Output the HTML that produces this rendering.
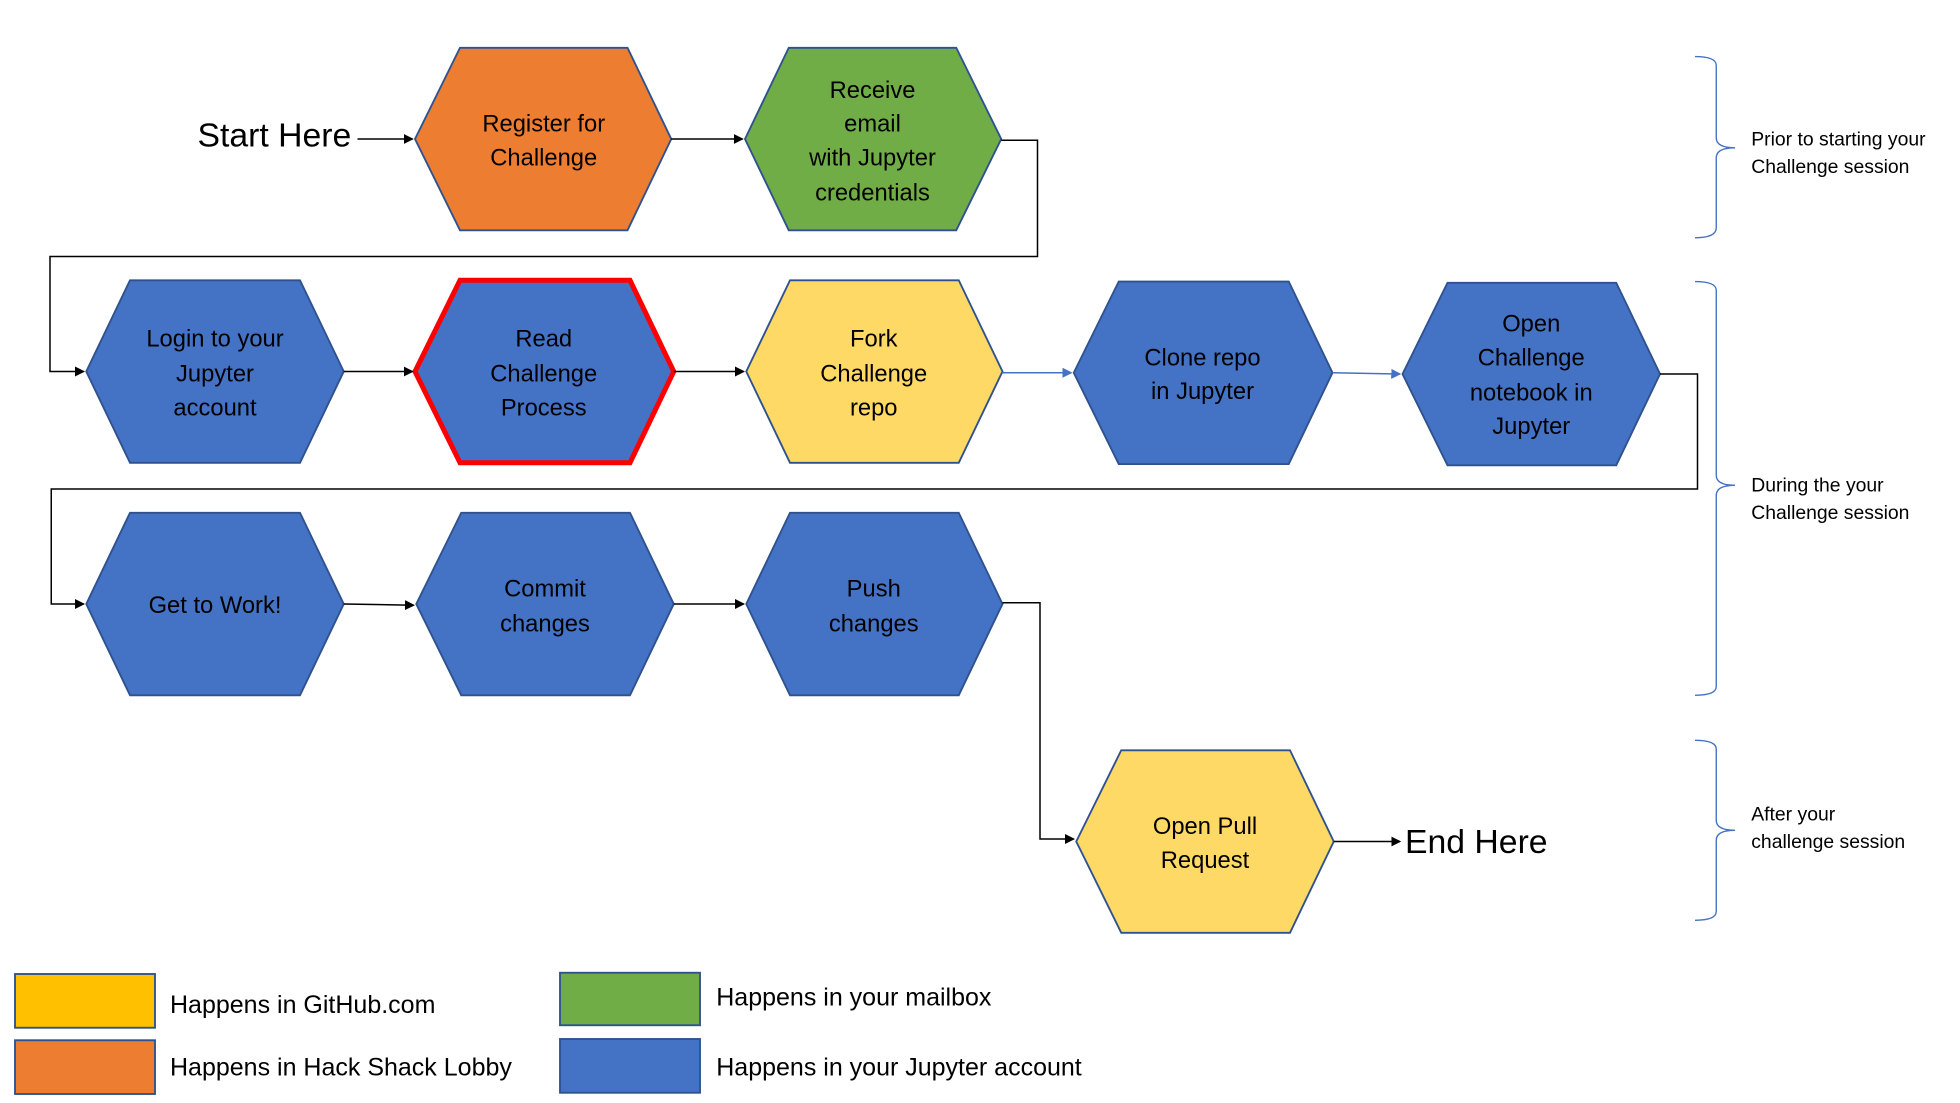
<!DOCTYPE html>
<html><head><meta charset="utf-8"><style>
html,body{margin:0;padding:0;background:#fff;}
svg{display:block;}
text{font-family:"Liberation Sans",sans-serif;fill:#000;}
.n{font-size:19px;text-anchor:middle;}
.b{font-size:15.5px;}
.l{font-size:20px;}
</style></head><body>
<svg width="1960" height="1103" viewBox="0 0 1568 882" xmlns="http://www.w3.org/2000/svg">
<defs>
<marker id="a" markerWidth="8" markerHeight="8" refX="7" refY="4" orient="auto" markerUnits="userSpaceOnUse"><path d="M0,0 L8,4 L0,8 z" fill="#000"/></marker>
<marker id="ab" markerWidth="8" markerHeight="8" refX="7" refY="4" orient="auto" markerUnits="userSpaceOnUse"><path d="M0,0 L8,4 L0,8 z" fill="#4472C4"/></marker>
</defs>
<g stroke="#2F528F" stroke-width="1.5">
<polygon points="332,111 368,38 502,38 537,111 502,184 368,184" fill="#ED7D31"/>
<polygon points="596,111 631,38 765,38 801,111 765,184 631,184" fill="#70AD47"/>
<polygon points="69,297 104,224 240,224 275,297 240,370 104,370" fill="#4472C4"/>
<polygon points="332,297 368,224 504,224 539,297 504,370 368,370" fill="#4472C4" stroke="#FF0000" stroke-width="4"/>
<polygon points="597,297 632,224 767,224 802,297 767,370 632,370" fill="#FFD966"/>
<polygon points="859,298 895,225 1031,225 1066,298 1031,371 895,371" fill="#4472C4"/>
<polygon points="1122,299 1158,226 1293,226 1328,299 1293,372 1158,372" fill="#4472C4"/>
<polygon points="69,483 104,410 240,410 275,483 240,556 104,556" fill="#4472C4"/>
<polygon points="333,483 369,410 504,410 539,483 504,556 369,556" fill="#4472C4"/>
<polygon points="597,483 632,410 767,410 802,483 767,556 632,556" fill="#4472C4"/>
<polygon points="861,673 897,600 1032,600 1067,673 1032,746 897,746" fill="#FFD966"/>
</g>
<g fill="none" stroke="#000" stroke-width="1.2">
<line x1="286" y1="111" x2="330" y2="111" marker-end="url(#a)"/>
<line x1="537" y1="111" x2="594" y2="111" marker-end="url(#a)"/>
<polyline points="801,112 830,112 830,205 40,205 40,297 67,297" marker-end="url(#a)"/>
<line x1="275" y1="297" x2="330" y2="297" marker-end="url(#a)"/>
<line x1="539" y1="297" x2="595" y2="297" marker-end="url(#a)"/>
<polyline points="1328,299 1358,299 1358,391 41,391 41,483 67,483" marker-end="url(#a)"/>
<line x1="275" y1="483" x2="331" y2="484" marker-end="url(#a)"/>
<line x1="539" y1="483" x2="595" y2="483" marker-end="url(#a)"/>
<polyline points="802,482 832,482 832,671 859,671" marker-end="url(#a)"/>
<line x1="1067" y1="673" x2="1120" y2="673" marker-end="url(#a)"/>
</g>
<g fill="none" stroke="#4472C4" stroke-width="1.2">
<line x1="802" y1="298" x2="857" y2="298" marker-end="url(#ab)"/>
<line x1="1066" y1="298" x2="1120" y2="299" marker-end="url(#ab)"/>
</g>
<g fill="none" stroke="#4472C4" stroke-width="1.1">
<path d="M1356,45 Q1373,45 1373,52 L1373,110 Q1373,118 1388,118 Q1373,118 1373,126 L1373,182 Q1373,190 1356,190"/>
<path d="M1356,225 Q1373,225 1373,232 L1373,380 Q1373,388 1388,388 Q1373,388 1373,396 L1373,549 Q1373,556 1356,556"/>
<path d="M1356,592 Q1373,592 1373,599 L1373,656 Q1373,664 1388,664 Q1373,664 1373,672 L1373,729 Q1373,736 1356,736"/>
</g>
<text x="158" y="117" style="font-size:27px">Start Here</text>
<text x="1124" y="682" style="font-size:27px">End Here</text>
<text class="n"><tspan x="435" y="105">Register for</tspan><tspan x="435" y="132">Challenge</tspan></text>
<text class="n"><tspan x="698" y="78">Receive</tspan><tspan x="698" y="105">email</tspan><tspan x="698" y="132">with Jupyter</tspan><tspan x="698" y="160">credentials</tspan></text>
<text class="n"><tspan x="172" y="277">Login to your</tspan><tspan x="172" y="305">Jupyter</tspan><tspan x="172" y="332">account</tspan></text>
<text class="n"><tspan x="435" y="277">Read</tspan><tspan x="435" y="305">Challenge</tspan><tspan x="435" y="332">Process</tspan></text>
<text class="n"><tspan x="699" y="277">Fork</tspan><tspan x="699" y="305">Challenge</tspan><tspan x="699" y="332">repo</tspan></text>
<text class="n"><tspan x="962" y="292">Clone repo</tspan><tspan x="962" y="319">in Jupyter</tspan></text>
<text class="n"><tspan x="1225" y="265">Open</tspan><tspan x="1225" y="292">Challenge</tspan><tspan x="1225" y="320">notebook in</tspan><tspan x="1225" y="347">Jupyter</tspan></text>
<text class="n" x="172" y="490">Get to Work!</text>
<text class="n"><tspan x="436" y="477">Commit</tspan><tspan x="436" y="505">changes</tspan></text>
<text class="n"><tspan x="699" y="477">Push</tspan><tspan x="699" y="505">changes</tspan></text>
<text class="n"><tspan x="964" y="667">Open Pull</tspan><tspan x="964" y="694">Request</tspan></text>
<text class="b"><tspan x="1401" y="116">Prior to starting your</tspan><tspan x="1401" y="138">Challenge session</tspan></text>
<text class="b"><tspan x="1401" y="393">During the your</tspan><tspan x="1401" y="415">Challenge session</tspan></text>
<text class="b"><tspan x="1401" y="656">After your</tspan><tspan x="1401" y="678">challenge session</tspan></text>
<g stroke="#2F528F" stroke-width="1.5">
<rect x="12" y="779" width="112" height="43" fill="#FFC000"/>
<rect x="12" y="832" width="112" height="43" fill="#ED7D31"/>
<rect x="448" y="778" width="112" height="42" fill="#70AD47"/>
<rect x="448" y="831" width="112" height="43" fill="#4472C4"/>
</g>
<text class="l" x="136" y="810">Happens in GitHub.com</text>
<text class="l" x="136" y="860">Happens in Hack Shack Lobby</text>
<text class="l" x="573" y="804">Happens in your mailbox</text>
<text class="l" x="573" y="860">Happens in your Jupyter account</text>
</svg>
</body></html>
